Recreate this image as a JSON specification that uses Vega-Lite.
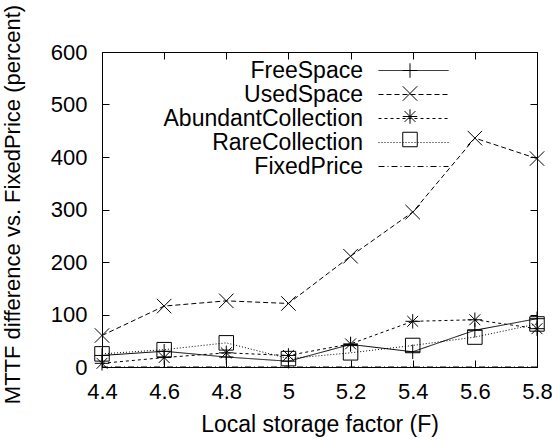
{
  "$schema": "https://vega.github.io/schema/vega-lite/v6.json",
  "width": 435,
  "height": 315,
  "autosize": {"type": "none"},
  "padding": {"left": 102, "top": 52, "right": 15, "bottom": 73},
  "background": "white",
  "config": {
    "font": "Liberation Sans",
    "view": {"stroke": "black", "strokeWidth": 1},
    "axis": {
      "domain": false,
      "grid": false,
      "labelFont": "Liberation Sans",
      "labelFontSize": 22,
      "labelColor": "black",
      "tickColor": "black",
      "tickWidth": 1,
      "titleFont": "Liberation Sans",
      "titleFontSize": 23,
      "titleFontWeight": "normal",
      "titleColor": "black"
    },
    "legend": {
      "labelFont": "Liberation Sans",
      "labelFontSize": 23,
      "labelColor": "black"
    }
  },
  "data": {
    "values": [
      {"F": 4.4, "series": "FreeSpace", "value": 22},
      {"F": 4.6, "series": "FreeSpace", "value": 30},
      {"F": 4.8, "series": "FreeSpace", "value": 19},
      {"F": 5.0, "series": "FreeSpace", "value": 11},
      {"F": 5.2, "series": "FreeSpace", "value": 43},
      {"F": 5.4, "series": "FreeSpace", "value": 29},
      {"F": 5.6, "series": "FreeSpace", "value": 70},
      {"F": 5.8, "series": "FreeSpace", "value": 92},
      {"F": 4.4, "series": "UsedSpace", "value": 60},
      {"F": 4.6, "series": "UsedSpace", "value": 116},
      {"F": 4.8, "series": "UsedSpace", "value": 126},
      {"F": 5.0, "series": "UsedSpace", "value": 121},
      {"F": 5.2, "series": "UsedSpace", "value": 211},
      {"F": 5.4, "series": "UsedSpace", "value": 295},
      {"F": 5.6, "series": "UsedSpace", "value": 436},
      {"F": 5.8, "series": "UsedSpace", "value": 397},
      {"F": 4.4, "series": "AbundantCollection", "value": 7},
      {"F": 4.6, "series": "AbundantCollection", "value": 18},
      {"F": 4.8, "series": "AbundantCollection", "value": 27},
      {"F": 5.0, "series": "AbundantCollection", "value": 22},
      {"F": 5.2, "series": "AbundantCollection", "value": 44},
      {"F": 5.4, "series": "AbundantCollection", "value": 87},
      {"F": 5.6, "series": "AbundantCollection", "value": 90},
      {"F": 5.8, "series": "AbundantCollection", "value": 73},
      {"F": 4.4, "series": "RareCollection", "value": 25},
      {"F": 4.6, "series": "RareCollection", "value": 33},
      {"F": 4.8, "series": "RareCollection", "value": 46},
      {"F": 5.0, "series": "RareCollection", "value": 16},
      {"F": 5.2, "series": "RareCollection", "value": 27},
      {"F": 5.4, "series": "RareCollection", "value": 41},
      {"F": 5.6, "series": "RareCollection", "value": 57},
      {"F": 5.8, "series": "RareCollection", "value": 82},
      {"F": 4.4, "series": "FixedPrice", "value": 0},
      {"F": 4.6, "series": "FixedPrice", "value": 0},
      {"F": 4.8, "series": "FixedPrice", "value": 0},
      {"F": 5.0, "series": "FixedPrice", "value": 0},
      {"F": 5.2, "series": "FixedPrice", "value": 0},
      {"F": 5.4, "series": "FixedPrice", "value": 0},
      {"F": 5.6, "series": "FixedPrice", "value": 0},
      {"F": 5.8, "series": "FixedPrice", "value": 0}
    ]
  },
  "resolve": {"axis": {"x": "independent", "y": "independent"}},
  "layer": [
    {
      "mark": {"type": "line", "stroke": "black", "strokeWidth": 1},
      "encoding": {
        "x": {
          "field": "F", "type": "quantitative",
          "scale": {"domain": [4.4, 5.8], "nice": false, "zero": false},
          "axis": {
            "orient": "bottom",
            "values": [4.4, 4.6, 4.8, 5.0, 5.2, 5.4, 5.6, 5.8],
            "format": "~g",
            "tickSize": -7,
            "labelPadding": 21,
            "labelFlush": false,
            "title": "Local storage factor (F)",
            "titleX": 217.5,
            "titleY": 64,
            "titleBaseline": "alphabetic",
            "titleAlign": "center"
          }
        },
        "y": {
          "field": "value", "type": "quantitative",
          "scale": {"domain": [0, 600], "nice": false, "zero": false},
          "axis": {
            "orient": "left",
            "values": [0, 100, 200, 300, 400, 500, 600],
            "tickSize": -7,
            "labelPadding": 22,
            "labelFlush": false,
            "title": "MTTF difference vs. FixedPrice (percent)",
            "titleFontSize": 22,
            "titleX": -83,
            "titleY": 152,
            "titleAngle": -90,
            "titleAlign": "center",
            "titleBaseline": "alphabetic"
          }
        },
        "strokeDash": {
          "field": "series", "type": "nominal",
          "scale": {
            "domain": ["FreeSpace", "UsedSpace", "AbundantCollection", "RareCollection", "FixedPrice"],
            "range": [[1, 0], [5, 3], [3, 3], [1, 2], [6, 3, 1, 3]]
          },
          "legend": {
            "title": null,
            "orient": "none",
            "legendX": 300,
            "legendY": 7,
            "padding": 0,
            "symbolType": "M-5,0L5,0",
            "symbolSize": 196,
            "symbolStrokeColor": "black",
            "symbolStrokeWidth": 1,
            "labelAlign": "right",
            "labelOffset": -62,
            "labelLimit": 400,
            "rowPadding": 0
          }
        }
      }
    },
    {
      "transform": [{"filter": "datum.series !== 'FixedPrice'"}],
      "mark": {"type": "point", "filled": false, "stroke": "black", "strokeWidth": 1, "size": 210, "opacity": 1},
      "encoding": {
        "x": {
          "field": "F", "type": "quantitative",
          "scale": {"domain": [4.4, 5.8], "nice": false, "zero": false},
          "axis": {
            "orient": "top",
            "values": [4.4, 4.6, 4.8, 5.0, 5.2, 5.4, 5.6, 5.8],
            "labels": false,
            "tickSize": -7,
            "title": null
          }
        },
        "y": {
          "field": "value", "type": "quantitative",
          "scale": {"domain": [0, 600], "nice": false, "zero": false},
          "axis": {
            "orient": "right",
            "values": [0, 100, 200, 300, 400, 500, 600],
            "labels": false,
            "tickSize": -7,
            "title": null
          }
        },
        "shape": {
          "field": "series", "type": "nominal",
          "scale": {
            "domain": ["FreeSpace", "UsedSpace", "AbundantCollection", "RareCollection"],
            "range": [
              "M-1,0L1,0M0,-1L0,1",
              "M-1,-1L1,1M-1,1L1,-1",
              "M-1,0L1,0M0,-1L0,1M-0.75,-0.75L0.75,0.75M-0.75,0.75L0.75,-0.75",
              "square"
            ]
          },
          "legend": {
            "title": null,
            "orient": "none",
            "legendX": 300,
            "legendY": 7,
            "padding": 0,
            "symbolSize": 210,
            "symbolStrokeColor": "black",
            "symbolFillColor": "transparent",
            "symbolStrokeWidth": 1,
            "labelOpacity": 0,
            "labelFontSize": 1,
            "labelLimit": 5,
            "clipHeight": 23,
            "rowPadding": 0
          }
        }
      }
    }
  ]
}
